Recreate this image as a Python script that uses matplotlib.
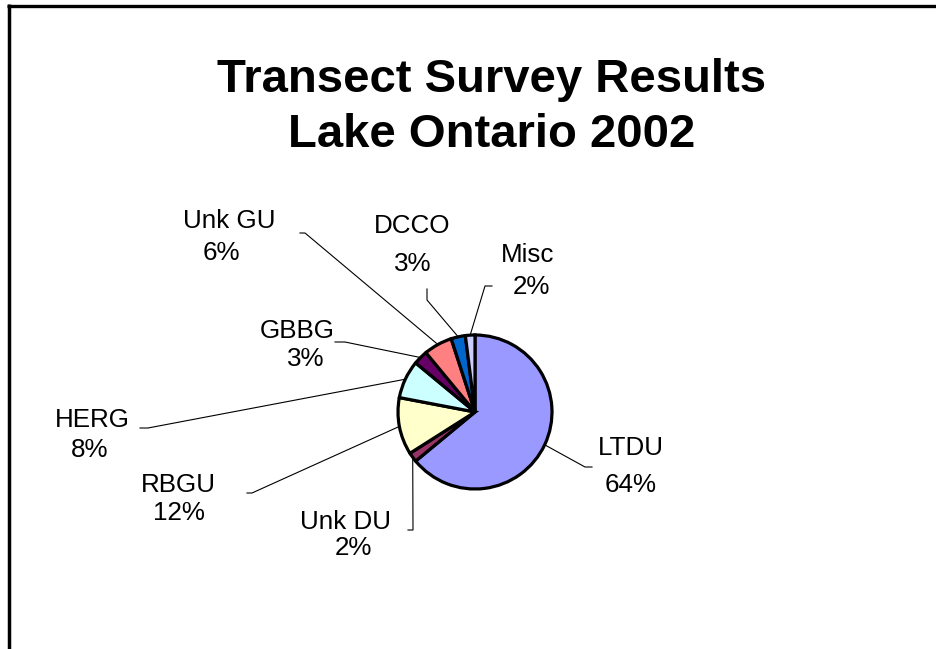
import numpy as np
import matplotlib.pyplot as plt

# Données du graphique
species = ['LTDU', 'Unk DU', 'RBGU', 'HERG', 'GBBG', 'Unk GU', 'DCCO', 'Misc']
percent = [64, 2, 12, 8, 3, 6, 3, 2]
colors = ['#9999FF', '#993366', '#FFFFCC', '#CCFFFF', '#660066', '#FF8080', '#0066CC', '#CCCCFF']

W, H = 936, 649
cx, cy, R = 475, 412, 77

# positions des étiquettes en pixels (y vers le bas)
name_pos = [(631, 446), (345, 520), (178, 483), (92, 418), (297, 329), (229, 219), (412, 224), (528, 253)]
pct_pos = [(631, 483), (353, 546), (179, 511), (90, 448), (306, 357), (221, 251), (413, 262), (531, 285)]
elbows = [[(585, 467), (592, 467)], [(413, 530), (408, 530)], [(252, 493), (247, 493)],
          [(148, 428), (140, 428)], [(345, 342), (335, 342)], [(305, 233), (300, 233)],
          [(427, 300), (427, 289)], [(485, 286), (492, 286)]]

plt.rcParams['font.family'] = ['Liberation Sans', 'DejaVu Sans']

fig = plt.figure(figsize=(W / 100, H / 100), dpi=100)
ax = fig.add_axes([0, 0, 1, 1])

wedges, _ = ax.pie(percent, colors=colors, startangle=90, counterclock=False,
                   center=(cx, H - cy), radius=R,
                   wedgeprops=dict(edgecolor='black', linewidth=2.3))

ax.set_xlim(0, W)
ax.set_ylim(0, H)
ax.set_aspect('equal')
ax.axis('off')

fs = 18.7
for i, w in enumerate(wedges):
    mid = np.deg2rad((w.theta1 + w.theta2) / 2)
    ex = cx + R * np.cos(mid)
    ey = (H - cy) + R * np.sin(mid)
    xs = [ex] + [p[0] for p in elbows[i]]
    ys = [ey] + [H - p[1] for p in elbows[i]]
    ax.plot(xs, ys, color='black', linewidth=0.8, zorder=0)
    nx, ny = name_pos[i]
    px, py = pct_pos[i]
    ax.text(nx, H - (ny + 9), species[i], ha='center', va='baseline', fontsize=fs)
    ax.text(px, H - (py + 9), f'{percent[i]}%', ha='center', va='baseline', fontsize=fs)

# titre
ax.text(492, H - 92, 'Transect Survey Results', ha='center', va='baseline',
        fontsize=34, fontweight='bold')
ax.text(492, H - 147, 'Lake Ontario 2002', ha='center', va='baseline',
        fontsize=34, fontweight='bold')

# cadre de la diapositive
ax.plot([9, 9], [0, H - 4], color='black', linewidth=2.5, solid_capstyle='butt')
ax.plot([7, W], [H - 5.7, H - 5.7], color='black', linewidth=2.4, solid_capstyle='butt')

fig.savefig('out.png', dpi=100)
